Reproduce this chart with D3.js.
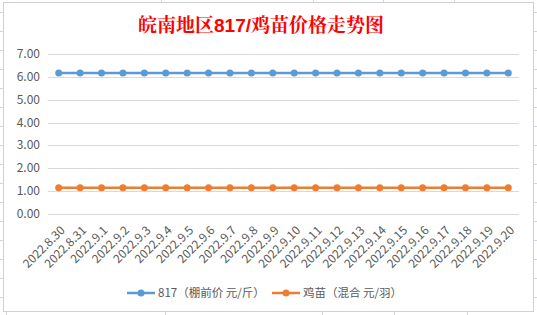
<!DOCTYPE html>
<meta charset="utf-8">
<script src="https://cdn.jsdelivr.net/npm/d3@7"></script>
<style>
  body { margin: 0; background: white; }
  text { font-family: "Noto Sans CJK SC", "Noto Sans", sans-serif; }
</style>
<div id="chart"></div>
<script>
// data
var dates = ["2022.8.30","2022.8.31","2022.9.1","2022.9.2","2022.9.3","2022.9.4","2022.9.5",
  "2022.9.6","2022.9.7","2022.9.8","2022.9.9","2022.9.10","2022.9.11","2022.9.12","2022.9.13",
  "2022.9.14","2022.9.15","2022.9.16","2022.9.17","2022.9.18","2022.9.19","2022.9.20"];
var price817 = [6.17,6.17,6.17,6.17,6.17,6.17,6.17,6.17,6.17,6.17,6.17,
  6.17,6.17,6.17,6.17,6.17,6.17,6.17,6.17,6.17,6.17,6.17];
var priceChick = [1.15,1.15,1.15,1.15,1.15,1.15,1.15,1.15,1.15,1.15,1.15,
  1.15,1.15,1.15,1.15,1.15,1.15,1.15,1.15,1.15,1.15,1.15];
var yTicks = [0,1,2,3,4,5,6,7];
var seriesNames = ["817（棚前价 元/斤）", "鸡苗（混合 元/羽）"];
var colors = ["#5B9BD5", "#ED7D31"];

var width = 537, height = 315;
var svg = d3.select("#chart").append("svg")
  .attr("width", width).attr("height", height);

// spreadsheet grid stubs behind the chart
var grid = svg.append("g").attr("stroke", "#d4d4dc").attr("stroke-width", 1);
[12,31,50,69,88,107,126,145,164,183,202,221,240,259,278,297].forEach(function(y) {
  grid.append("line").attr("x1", 0).attr("x2", 3).attr("y1", y + 0.5).attr("y2", y + 0.5);
  grid.append("line").attr("x1", 534).attr("x2", 537).attr("y1", y + 0.5).attr("y2", y + 0.5);
});
[161,313,383,454].forEach(function(x) {
  grid.append("line").attr("x1", x + 0.5).attr("x2", x + 0.5).attr("y1", 0).attr("y2", 2);
});
[6,165,322,394,467].forEach(function(x) {
  grid.append("line").attr("x1", x + 0.5).attr("x2", x + 0.5).attr("y1", 312).attr("y2", 315);
});

// chart frame
svg.append("rect")
  .attr("x", 3.5).attr("y", 2.5).attr("width", 530).attr("height", 309)
  .attr("fill", "white").attr("stroke", "#d0d0d8");

// title: latin part in bold sans, chinese part in serif
svg.append("text")
  .attr("x", 261).attr("y", 32)
  .attr("text-anchor", "middle")
  .attr("fill", "#ff0000")
  .style("font-size", "19px").style("font-weight", "bold")
  .style("font-family", "'Liberation Sans', 'Noto Serif CJK SC', serif")
  .text("皖南地区817/鸡苗价格走势图");

var x = d3.scaleBand().domain(dates).range([48, 519]);
var y = d3.scaleLinear().domain([0, 7]).range([214, 54]);

// horizontal gridlines + y labels
svg.append("g").selectAll("line").data(yTicks).enter().append("line")
  .attr("x1", 48).attr("x2", 519)
  .attr("y1", function(d) { return Math.round(y(d)) + 0.5; })
  .attr("y2", function(d) { return Math.round(y(d)) + 0.5; })
  .attr("stroke", "#d9d9d9");

svg.append("g").selectAll("text").data(yTicks).enter().append("text")
  .attr("x", 40).attr("y", function(d) { return y(d) + 4; })
  .attr("text-anchor", "end")
  .attr("fill", "#595959")
  .style("font-size", "12px")
  .text(function(d) { return d.toFixed(2); });

// rotated x labels
svg.append("g").selectAll("text").data(dates).enter().append("text")
  .attr("transform", function(d) {
    return "translate(" + (x(d) + x.bandwidth() / 2 + 7) + ",231) rotate(-45)";
  })
  .attr("text-anchor", "end")
  .attr("fill", "#595959")
  .style("font-size", "12px")
  .text(function(d) { return d; });

// series lines
var line = d3.line()
  .x(function(d, i) { return x(dates[i]) + x.bandwidth() / 2; })
  .y(function(d) { return y(d); });

[price817, priceChick].forEach(function(vals, k) {
  svg.append("path").datum(vals)
    .attr("d", line)
    .attr("fill", "none")
    .attr("stroke", colors[k])
    .attr("stroke-width", 2.5);
  svg.append("g").selectAll("circle").data(vals).enter().append("circle")
    .attr("cx", function(d, i) { return x(dates[i]) + x.bandwidth() / 2; })
    .attr("cy", function(d) { return y(d); })
    .attr("r", 3.5)
    .attr("fill", colors[k]);
});

// legend
var legX = [127, 272];
seriesNames.forEach(function(name, k) {
  var g = svg.append("g").attr("transform", "translate(" + legX[k] + ",293)");
  g.append("line").attr("x1", 0).attr("x2", 28).attr("y1", 0).attr("y2", 0)
    .attr("stroke", colors[k]).attr("stroke-width", 2.5);
  g.append("circle").attr("cx", 14).attr("cy", 0).attr("r", 3.5).attr("fill", colors[k]);
  g.append("text").attr("x", 31).attr("y", 4)
    .attr("fill", "#595959").style("font-size", "11.5px").text(name);
});
</script>
